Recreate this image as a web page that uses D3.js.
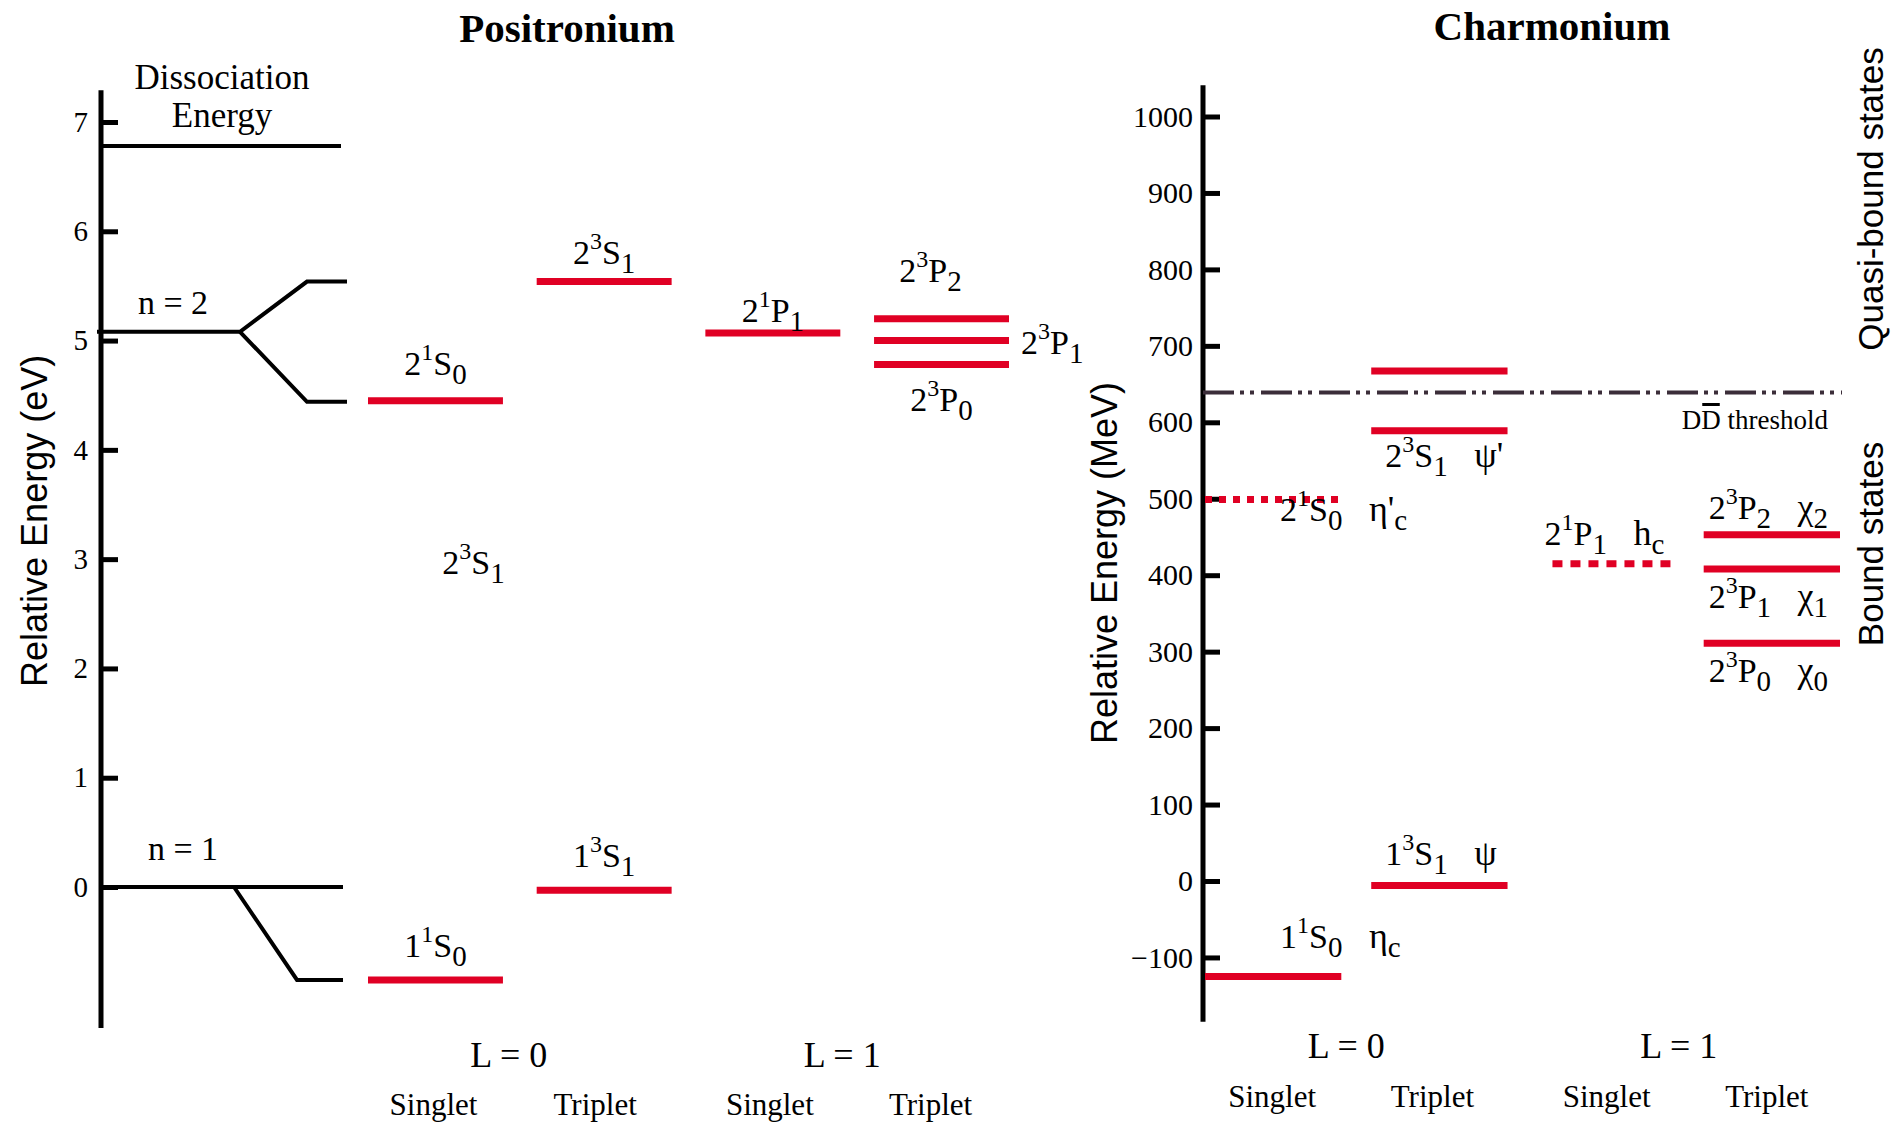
<!DOCTYPE html>
<html>
<head>
<meta charset="utf-8">
<script src="https://cdn.jsdelivr.net/npm/d3@7"></script>
<style>
body { margin: 0; background: #fff; }
text { font-family: "Liberation Serif", "Times New Roman", serif; fill: #000; }
.sans { font-family: "Liberation Sans", Arial, sans-serif; }
</style>
</head>
<body>
<svg id="chart" width="1892" height="1123"></svg>
<script>
// ---- positronium (eV) ----
var posTicks = [0, 1, 2, 3, 4, 5, 6, 7];
var posColumns = ["S0", "T0", "S1", "T1"];
var posColumnNames = ["Singlet", "Triplet", "Singlet", "Triplet"];
var posGroups = ["L = 0", "L = 1"];
var posLevels = [
  {name: "1^{1}S_{0}", col: "S0", e: -0.85},
  {name: "1^{3}S_{1}", col: "T0", e: -0.03},
  {name: "2^{1}S_{0}", col: "S0", e: 4.45},
  {name: "2^{3}S_{1}", col: "T0", e: 5.54},
  {name: "2^{1}P_{1}", col: "S1", e: 5.07},
  {name: "2^{3}P_{2}", col: "T1", e: 5.20},
  {name: "2^{3}P_{1}", col: "T1", e: 5.00},
  {name: "2^{3}P_{0}", col: "T1", e: 4.78}
];
var posStray = {name: "2^{3}S_{1}", col: "S0", e: 2.9};
var dissociation = 6.78;
// schematic splitting: [stage, energy]
var n2Split = [[[0, 5.08], [1, 5.08], [2, 5.54], [3, 5.54]], [[1, 5.08], [2, 4.44], [3, 4.44]]];
var n1Split = [[[0, 0], [3, 0]], [[1, 0], [2, -0.85], [3, -0.85]]];

// ---- charmonium (MeV) ----
var chTicks = [-100, 0, 100, 200, 300, 400, 500, 600, 700, 800, 900, 1000];
var chColumns = ["S0", "T0", "S1", "T1"];
var chLevels = [
  {name: "1^{1}S_{0}", particle: "η_{c}", col: "S0", m: -125, confirmed: true},
  {name: "1^{3}S_{1}", particle: "ψ", col: "T0", m: -6, confirmed: true},
  {name: "2^{1}S_{0}", particle: "η'_{c}", col: "S0", m: 499, confirmed: false},
  {name: "2^{3}S_{1}", particle: "ψ'", col: "T0", m: 589, confirmed: true},
  {name: "", particle: "", col: "T0", m: 667, confirmed: true},
  {name: "2^{1}P_{1}", particle: "h_{c}", col: "S1", m: 415, confirmed: false},
  {name: "2^{3}P_{2}", particle: "χ_{2}", col: "T1", m: 453, confirmed: true},
  {name: "2^{3}P_{1}", particle: "χ_{1}", col: "T1", m: 408, confirmed: true},
  {name: "2^{3}P_{0}", particle: "χ_{0}", col: "T1", m: 311, confirmed: true}
];
var ddThreshold = 639;

// label placement (layout only)
var posLabelPos = {
  "1^{1}S_{0}": {dx: 0, dy: -23}, "1^{3}S_{1}": {dx: 0, dy: -23},
  "2^{1}S_{0}": {dx: 0, dy: -26}, "2^{3}S_{1}": {dx: 0, dy: -18},
  "2^{1}P_{1}": {dx: 0, dy: -11}, "2^{3}P_{2}": {dx: -11, dy: -37},
  "2^{3}P_{1}": {right: 12, dy: 13}, "2^{3}P_{0}": {dx: 0, dy: 46}
};
var chLabelPos = {
  "η_{c}": {dx: 75, dy: -29}, "ψ": {dx: 14, dy: -21}, "η'_{c}": {dx: 75, dy: 21},
  "ψ'": {dx: 14, dy: 36}, "h_{c}": {dx: 7, dy: -19}, "χ_{2}": {dx: 5, dy: -16},
  "χ_{1}": {dx: 5, dy: 39}, "χ_{0}": {dx: 5, dy: 39}
};
var colTextShift = {S0: -2, T0: -9, S1: -3, T1: -11};

var RED = "#e00024";
var svg = d3.select("#chart");

// sub/superscript text: 2^{3}S_{1}
function rich(t, str, sz, shift, firstDx) {
  var re = /\^\{([^}]*)\}|_\{([^}]*)\}|([^^_]+)/g, m, first = true;
  while ((m = re.exec(str)) !== null) {
    var target, txt, fs;
    if (m[1] !== undefined) { target = -sz.up; txt = m[1]; fs = sz.sup; }
    else if (m[2] !== undefined) { target = sz.down; txt = m[2]; fs = sz.sub; }
    else { target = 0; txt = m[3]; fs = sz.main; }
    var ts = t.append("tspan").attr("dy", target - shift).attr("font-size", fs).text(txt);
    if (first && firstDx) ts.attr("dx", firstDx);
    first = false;
    shift = target;
  }
  return shift;
}
var labelSize = {main: 34, sup: 24, sub: 29, up: 15, down: 9};

function drawAxis(g, scale, ticks, x, pad, fs, lo, hi) {
  var ax = d3.axisLeft(scale).tickValues(ticks).tickSizeInner(-17).tickSizeOuter(0)
    .tickPadding(pad).tickFormat(d3.format("d"));
  g.attr("transform", "translate(" + x + ",0)").call(ax);
  g.attr("font-family", null).attr("font-size", null);
  g.select(".domain").remove();
  g.selectAll(".tick line").attr("stroke", "#000").attr("stroke-width", 5);
  g.selectAll(".tick text").attr("font-size", fs).attr("fill", "#000");
  g.append("line").attr("y1", scale(lo)).attr("y2", scale(hi))
    .attr("stroke", "#000").attr("stroke-width", 5);
}

// ================= POSITRONIUM =================
var yPos = d3.scaleLinear().domain([0, 7]).range([887, 122]);
var xPos = d3.scaleBand().domain(posColumns).range([368, 1009]).paddingInner(0.2);
var stage2 = d3.scaleLinear().domain([0, 1, 2, 3]).range([97, 240, 307, 347]);
var stage1 = d3.scaleLinear().domain([0, 1, 2, 3]).range([103, 234, 297, 343]);

var gp = svg.append("g");
drawAxis(gp.append("g"), yPos, posTicks, 101, 13, 29, -1.29, 7.29);

var schemeLine = function(sx) {
  return d3.line().x(function(d) { return sx(d[0]); }).y(function(d) { return yPos(d[1]); });
};
gp.append("line").attr("x1", stage2(0.02)).attr("x2", stage2(2.85))
  .attr("y1", yPos(dissociation)).attr("y2", yPos(dissociation))
  .attr("stroke", "#000").attr("stroke-width", 4);
gp.selectAll("path.n2").data(n2Split).enter().append("path")
  .attr("d", schemeLine(stage2)).attr("fill", "none").attr("stroke", "#000").attr("stroke-width", 4);
gp.selectAll("path.n1").data(n1Split).enter().append("path")
  .attr("d", schemeLine(stage1)).attr("fill", "none").attr("stroke", "#000").attr("stroke-width", 4);

gp.selectAll("line.lvl").data(posLevels).enter().append("line")
  .attr("x1", function(d) { return xPos(d.col); })
  .attr("x2", function(d) { return xPos(d.col) + xPos.bandwidth(); })
  .attr("y1", function(d) { return yPos(d.e); }).attr("y2", function(d) { return yPos(d.e); })
  .attr("stroke", RED).attr("stroke-width", 7);

posLevels.concat([posStray]).forEach(function(d, i) {
  var p = i < posLevels.length ? posLabelPos[d.name] : {dx: 38, dy: 4};
  var t = gp.append("text").attr("font-size", labelSize.main);
  if (p.right !== undefined) {
    t.attr("x", xPos(d.col) + xPos.bandwidth() + p.right).attr("text-anchor", "start");
  } else {
    t.attr("x", xPos(d.col) + xPos.bandwidth() / 2 + p.dx).attr("text-anchor", "middle");
  }
  t.attr("y", yPos(d.e) + p.dy);
  rich(t, d.name, labelSize, 0, 0);
});

gp.append("text").attr("x", 222).attr("y", 89).attr("text-anchor", "middle")
  .attr("font-size", 35).text("Dissociation");
gp.append("text").attr("x", 222).attr("y", 127).attr("text-anchor", "middle")
  .attr("font-size", 35).text("Energy");
gp.append("text").attr("x", 173).attr("y", yPos(5.08) - 18).attr("text-anchor", "middle")
  .attr("font-size", 34).text("n = 2");
gp.append("text").attr("x", 183).attr("y", yPos(0) - 27).attr("text-anchor", "middle")
  .attr("font-size", 34).text("n = 1");

gp.append("text").attr("x", 567).attr("y", 42).attr("text-anchor", "middle")
  .attr("font-size", 41).attr("font-weight", "bold").text("Positronium");
gp.append("text").attr("class", "sans")
  .attr("transform", "translate(47," + yPos(3.35) + ") rotate(-90)")
  .attr("text-anchor", "middle").attr("font-size", 36).text("Relative Energy (eV)");

gp.selectAll("text.col").data(posColumns).enter().append("text")
  .attr("x", function(d) { return xPos(d) + xPos.bandwidth() / 2 + colTextShift[d]; })
  .attr("y", 1115).attr("text-anchor", "middle").attr("font-size", 31)
  .text(function(d, i) { return posColumnNames[i]; });
gp.selectAll("text.grp").data(posGroups).enter().append("text")
  .attr("x", function(d, i) {
    return (xPos(posColumns[2 * i]) + xPos(posColumns[2 * i + 1]) + xPos.bandwidth()) / 2 - 11 - 4 * i;
  })
  .attr("y", 1067).attr("text-anchor", "middle").attr("font-size", 36)
  .text(function(d) { return d; });

// ================= CHARMONIUM =================
var yCh = d3.scaleLinear().domain([0, 1000]).range([881, 116.5]);
var xCh = d3.scaleBand().domain(chColumns).range([1205, 1840]).paddingInner(0.18);
var gc = svg.append("g");
drawAxis(gc.append("g"), yCh, chTicks, 1203, 10, 30, -184, 1041);

// DD threshold
gc.append("line").attr("x1", 1203).attr("x2", xCh("T1") + xCh.bandwidth() + 2)
  .attr("y1", yCh(ddThreshold)).attr("y2", yCh(ddThreshold))
  .attr("stroke", "#3b2d39").attr("stroke-width", 4)
  .attr("stroke-dasharray", "31,6,4,6,4,7");

gc.selectAll("line.lvl").data(chLevels).enter().append("line")
  .attr("x1", function(d) { return xCh(d.col) + (d.particle === "h_{c}" ? 15 : 0); })
  .attr("x2", function(d) { return xCh(d.col) + xCh.bandwidth() - (d.particle === "h_{c}" ? 3 : 0); })
  .attr("y1", function(d) { return yCh(d.m); }).attr("y2", function(d) { return yCh(d.m); })
  .attr("stroke", RED).attr("stroke-width", 7)
  .attr("stroke-dasharray", function(d) {
    return d.confirmed ? null : (d.col === "S0" ? "7,7" : "10,8");
  });

chLevels.filter(function(d) { return d.name; }).forEach(function(d) {
  var p = chLabelPos[d.particle];
  var t = gc.append("text").attr("font-size", labelSize.main)
    .attr("x", xCh(d.col) + p.dx).attr("y", yCh(d.m) + p.dy);
  var s = rich(t, d.name, labelSize, 0, 0);
  t.append("tspan").attr("dy", -s).attr("font-size", labelSize.main).text("\u00a0");
  rich(t, d.particle, {main: 36, sup: 24, sub: 29, up: 15, down: 9}, 0, 18);
});

var thr = gc.append("text").attr("x", 1828).attr("y", yCh(ddThreshold) + 37)
  .attr("text-anchor", "end").attr("font-size", 27).text("DD threshold");
var ext = thr.node().getExtentOfChar(1);
gc.append("line").attr("x1", ext.x + 1).attr("x2", ext.x + ext.width - 1)
  .attr("y1", yCh(ddThreshold) + 37 - 25).attr("y2", yCh(ddThreshold) + 37 - 25)
  .attr("stroke", "#000").attr("stroke-width", 3);

gc.append("text").attr("x", 1552).attr("y", 40).attr("text-anchor", "middle")
  .attr("font-size", 41).attr("font-weight", "bold").text("Charmonium");
gc.append("text").attr("class", "sans")
  .attr("transform", "translate(1117," + yCh(416) + ") rotate(-90)")
  .attr("text-anchor", "middle").attr("font-size", 36).text("Relative Energy (MeV)");
gc.append("text").attr("class", "sans")
  .attr("transform", "translate(1883,199) rotate(-90)")
  .attr("text-anchor", "middle").attr("font-size", 35).text("Quasi-bound states");
gc.append("text").attr("class", "sans")
  .attr("transform", "translate(1883,544) rotate(-90)")
  .attr("text-anchor", "middle").attr("font-size", 35).text("Bound states");

gc.selectAll("text.col").data(chColumns).enter().append("text")
  .attr("x", function(d) { return xCh(d) + xCh.bandwidth() / 2 + {S0: -1, T0: -7, S1: 1, T1: -5}[d]; })
  .attr("y", 1107).attr("text-anchor", "middle").attr("font-size", 31)
  .text(function(d, i) { return posColumnNames[i]; });
gc.selectAll("text.grp").data(posGroups).enter().append("text")
  .attr("x", function(d, i) {
    return (xCh(chColumns[2 * i]) + xCh(chColumns[2 * i + 1]) + xCh.bandwidth()) / 2 - 10;
  })
  .attr("y", 1058).attr("text-anchor", "middle").attr("font-size", 36)
  .text(function(d) { return d; });
</script>
</body>
</html>
